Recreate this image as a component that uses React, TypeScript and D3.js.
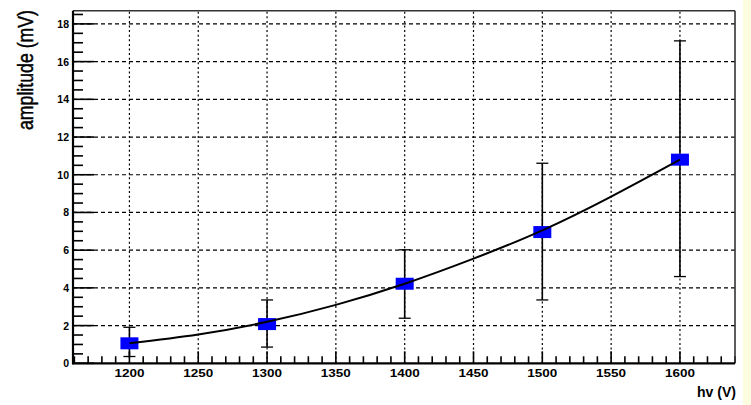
import React from "react";
import * as d3 from "d3";

// Measured points: high voltage (V) vs. signal amplitude (mV)
const hvValues = [1200, 1300, 1400, 1500, 1600];
const amplitudes = [1.06, 2.08, 4.22, 6.96, 10.8];
const errorsUp = [0.85, 1.28, 1.8, 3.65, 6.3];
const errorsDown = [0.7, 1.22, 1.83, 3.6, 6.2];

// Fitted curve, sampled along the HV range
const fitHv = [1200, 1250, 1300, 1350, 1400, 1450, 1500, 1550, 1600];
const fitAmp = [1.06, 1.53, 2.2, 3.1, 4.22, 5.55, 7.05, 8.84, 10.8];

// Axis ticks
const xMajorTicks = [1200, 1250, 1300, 1350, 1400, 1450, 1500, 1550, 1600];
const yMajorTicks = [0, 2, 4, 6, 8, 10, 12, 14, 16, 18];
const xTitle = "hv (V)";
const yTitle = "amplitude (mV)";

const W = 751;
const H = 405;
const frame = { left: 73, right: 735, top: 10.7, bottom: 363.3 };

export default function App() {
  const x = d3.scaleLinear().domain([1159, 1640]).range([frame.left, frame.right]);
  const y = d3.scaleLinear().domain([0, 18.7]).range([frame.bottom, frame.top]);

  const xMinor = d3.range(1160, 1641, 10).filter((v) => v % 50 !== 0);
  const yMinor = d3.range(0.5, 18.7, 0.5).filter((v) => v % 2 !== 0);

  const fitLine = d3
    .line<number>()
    .x((_, i) => x(fitHv[i]))
    .y((d) => y(d))
    .curve(d3.curveNatural);

  const font = "'Liberation Sans', Arial, Helvetica, sans-serif";

  return (
    <svg
      width={W}
      height={H}
      style={{ position: "absolute", left: 0, top: 0, background: "#ffffff" }}
    >
      <rect x={0} y={0} width={W} height={H} fill="#ffffff" />
      <rect x={743} y={0} width={W - 743} height={H} fill="#fffde0" />

      {/* grid */}
      <g stroke="#000" strokeWidth={1.2} fill="none">
        {yMajorTicks
          .filter((v) => v > 0)
          .map((v) => (
            <line
              key={"gy" + v}
              x1={frame.left}
              x2={frame.right}
              y1={y(v)}
              y2={y(v)}
              strokeDasharray="4 3"
            />
          ))}
        {xMajorTicks.map((v) => (
          <line
            key={"gx" + v}
            x1={x(v)}
            x2={x(v)}
            y1={frame.bottom}
            y2={frame.top}
            strokeDasharray="2 2.6"
          />
        ))}
      </g>

      {/* ticks */}
      <g stroke="#000" strokeWidth={1.6}>
        {yMajorTicks.map((v) => (
          <line key={"ty" + v} x1={frame.left} x2={frame.left + 21} y1={y(v)} y2={y(v)} />
        ))}
        {yMinor.map((v) => (
          <line key={"tym" + v} x1={frame.left} x2={frame.left + 10} y1={y(v)} y2={y(v)} />
        ))}
        {xMajorTicks.map((v) => (
          <line key={"tx" + v} x1={x(v)} x2={x(v)} y1={frame.bottom} y2={frame.bottom - 12} />
        ))}
        {xMinor.map((v) => (
          <line key={"txm" + v} x1={x(v)} x2={x(v)} y1={frame.bottom} y2={frame.bottom - 7} />
        ))}
      </g>

      {/* frame */}
      <line x1={frame.left} x2={frame.right} y1={frame.top} y2={frame.top} stroke="#333" strokeWidth={1.4} />
      <line x1={frame.right} x2={frame.right} y1={frame.top} y2={frame.bottom} stroke="#333" strokeWidth={1.6} />
      <line x1={frame.left} x2={frame.left} y1={frame.top} y2={frame.bottom + 1} stroke="#000" strokeWidth={2.2} />
      <line x1={frame.left - 1} x2={frame.right} y1={frame.bottom} y2={frame.bottom} stroke="#000" strokeWidth={2.2} />

      {/* tick labels */}
      <g fontFamily={font} fontSize={10.5} fontWeight="bold" fill="#000">
        {yMajorTicks.map((v) => (
          <text key={"ly" + v} x={69} y={y(v) + 4} textAnchor="end">
            {v}
          </text>
        ))}
        {xMajorTicks.map((v) => (
          <text
            key={"lx" + v}
            x={x(v)}
            y={376.5}
            textAnchor="middle"
            textLength={30}
            lengthAdjust="spacingAndGlyphs"
          >
            {v}
          </text>
        ))}
      </g>

      {/* axis titles */}
      <text
        x={736}
        y={397}
        textAnchor="end"
        fontFamily={font}
        fontSize={15}
        fontWeight="bold"
        textLength={39}
        lengthAdjust="spacingAndGlyphs"
      >
        {xTitle}
      </text>
      <text
        transform="translate(32.5,130) scale(1.33,1) rotate(-90)"
        x={0}
        y={0}
        textAnchor="start"
        fontFamily={font}
        fontSize={16}
        fontWeight="normal"
        textLength={120}
        lengthAdjust="spacingAndGlyphs"
        stroke="#000"
        strokeWidth={0.35}
      >
        {yTitle}
      </text>

      {/* error bars */}
      <g stroke="#000">
        {hvValues.map((hv, i) => {
          const cx = x(hv);
          const top = y(amplitudes[i] + errorsUp[i]);
          const bot = y(amplitudes[i] - errorsDown[i]);
          return (
            <g key={"e" + hv}>
              <line x1={cx} x2={cx} y1={top} y2={bot} strokeWidth={1.6} />
              <line x1={cx - 6} x2={cx + 6} y1={top} y2={top} strokeWidth={1.3} />
              <line x1={cx - 6} x2={cx + 6} y1={bot} y2={bot} strokeWidth={1.3} />
            </g>
          );
        })}
      </g>

      {/* markers */}
      <g fill="#0000ff">
        {hvValues.map((hv, i) => (
          <rect key={"m" + hv} x={x(hv) - 9} y={y(amplitudes[i]) - 6} width={18} height={12} />
        ))}
      </g>

      {/* fit curve */}
      <path d={fitLine(fitAmp) ?? ""} fill="none" stroke="#000" strokeWidth={2} />
    </svg>
  );
}
